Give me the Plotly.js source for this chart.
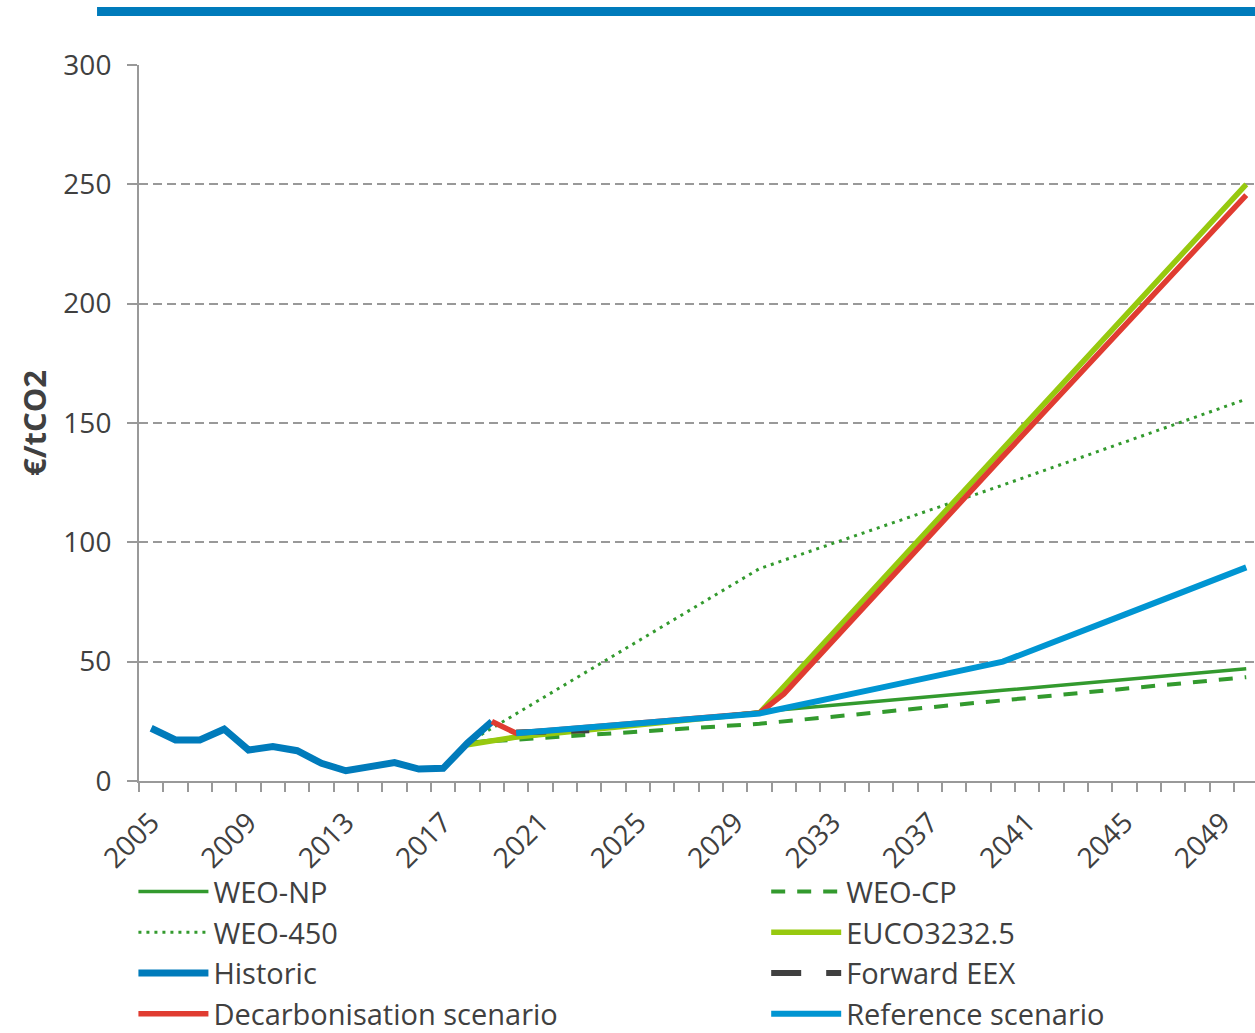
<!DOCTYPE html>
<html>
<head>
<meta charset="utf-8">
<script src="https://cdn.plot.ly/plotly-3.0.1.min.js"></script>
<style>
html,body{margin:0;padding:0;background:#fff;}
#chart{width:1255px;height:1033px;}
</style>
</head>
<body>
<div id="chart"></div>
<script>
// ---- Data ----
const historicYears = [2005,2006,2007,2008,2009,2010,2011,2012,2013,2014,2015,2016,2017,2018,2019];
const historicValues = [22.1,17.2,17.2,21.7,13.0,14.4,12.7,7.4,4.3,6.0,7.7,5.0,5.3,15.9,24.9];

const weoYears = [2018, 2030, 2040, 2050];
const weoNP  = [16.0, 29.0, 38.0, 47.0];
const weoCP  = [16.0, 24.0, 33.8, 43.5];
const weo450 = [16.0, 89.0, 124.0, 160.0];

const eucoYears = [2018, 2020, 2030, 2040, 2050];
const eucoValues = [15.2, 18.4, 28.5, 139.5, 250.0];

const eexYears = [2020, 2021, 2022, 2023];
const eexValues = [20.3, 20.6, 21.0, 21.3];

const decarbYears = [2019, 2020, 2030, 2031, 2040, 2050];
const decarbValues = [24.9, 20.0, 28.5, 36.5, 136.0, 245.5];

const refYears = [2020, 2025, 2030, 2035, 2040, 2045, 2050];
const refValues = [20.0, 24.2, 28.3, 39.1, 50.0, 69.7, 89.5];

const tickYears = [2005,2009,2013,2017,2021,2025,2029,2033,2037,2041,2045,2049];
const tickLabels = tickYears.map(String);

const yTitle = '€/tCO2';

// ---- Styling ----
const FONT = '"Open Sans", Lato, sans-serif';
const TXT = '#404040';
const GRID = '#999999';
const GREEN = '#339a2e';

function tr(name, x, y, line, legend) {
  return {type:'scatter', mode:'lines', name, x, y, line, connectgaps:true,
          legend, legendgroup:name, hoverinfo:'skip'};
}

const traces = [
  tr('WEO-NP', weoYears, weoNP, {color:GREEN, width:3.5}, 'legend'),
  tr('WEO-CP', weoYears, weoCP, {color:GREEN, width:4, dash:'14px,12px'}, 'legend2'),
  tr('WEO-450', weoYears, weo450, {color:GREEN, width:3, dash:'3px,5px'}, 'legend'),
  tr('EUCO3232.5', eucoYears, eucoValues, {color:'#97c90f', width:5.5}, 'legend2'),
  tr('Historic', historicYears, historicValues, {color:'#007bbb', width:7}, 'legend'),
  tr('Forward EEX', eexYears, eexValues, {color:'#404040', width:6, dash:'30px,25px'}, 'legend2'),
  tr('Decarbonisation scenario', decarbYears, decarbValues, {color:'#e03c31', width:5.5}, 'legend'),
  tr('Reference scenario', refYears, refValues, {color:'#0095d2', width:6}, 'legend2')
];

const legendCommon = {
  orientation:'v', xanchor:'left', yanchor:'top', bgcolor:'rgba(0,0,0,0)',
  font:{family:FONT, size:29, color:TXT}, itemwidth:70, tracegroupgap:0,
  itemclick:false, itemdoubleclick:false
};

const layout = {
  width:1255, height:1033,
  margin:{l:139, r:0, t:65, b:252, autoexpand:false},
  paper_bgcolor:'#fff', plot_bgcolor:'#fff',
  font:{family:FONT, color:TXT},
  showlegend:true,
  xaxis:{
    range:[2004.5, 2050.36], tickmode:'array', tickvals:tickYears, ticktext:tickLabels,
    tickangle:-45, ticks:'', ticklabelstandoff:12, automargin:false,
    tickfont:{family:FONT, size:28, color:TXT},
    showline:true, linecolor:GRID, linewidth:2, showgrid:false, zeroline:false,
    minor:{tickmode:'linear', tick0:2004.5, dtick:1, ticks:'outside', ticklen:9,
           tickcolor:GRID, tickwidth:2, showgrid:false}
  },
  yaxis:{
    range:[0,300], tickmode:'linear', tick0:0, dtick:50, automargin:false,
    ticks:'outside', ticklen:10, tickcolor:GRID, tickwidth:2, ticklabelstandoff:10,
    tickfont:{family:FONT, size:28, color:TXT},
    showline:true, linecolor:GRID, linewidth:2, zeroline:false,
    showgrid:true, gridcolor:GRID, gridwidth:1.8, griddash:'9px,5px',
    title:{text:yTitle, font:{family:FONT, size:31, color:TXT, weight:'bold'}, standoff:8}
  },
  legend: Object.assign({x:-0.005, y:-0.119}, legendCommon),
  legend2: Object.assign({x:0.562, y:-0.119}, legendCommon),
  shapes:[{type:'rect', xref:'paper', yref:'paper', x0:-0.0376, x1:1.0, y0:1.0684, y1:1.081,
           fillcolor:'#007bbb', line:{width:0}}]
};

Plotly.newPlot('chart', traces, layout, {displayModeBar:false, staticPlot:true});
</script>
</body>
</html>
